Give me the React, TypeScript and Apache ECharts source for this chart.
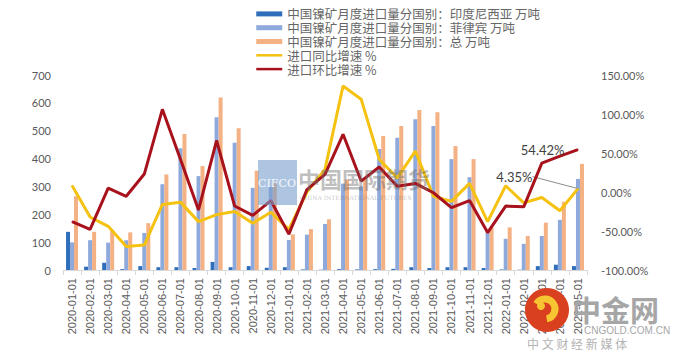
import React, { useEffect, useRef } from "react";
import * as echarts from "echarts";

const categories = [
  "2020-01-01", "2020-02-01", "2020-03-01", "2020-04-01", "2020-05-01", "2020-06-01",
  "2020-07-01", "2020-08-01", "2020-09-01", "2020-10-01", "2020-11-01", "2020-12-01",
  "2021-01-01", "2021-02-01", "2021-03-01", "2021-04-01", "2021-05-01", "2021-06-01",
  "2021-07-01", "2021-08-01", "2021-09-01", "2021-10-01", "2021-11-01", "2021-12-01",
  "2022-01-01", "2022-02-01", "2022-03-01", "2022-04-01", "2022-05-01",
];

const indonesia = [137, 12, 26, 3, 14, 10, 10, 7, 29, 10, 14, 8, 10, 2, 1, 3, 2, 3, 4, 10, 7, 10, 10, 7, 2, 1, 14, 19, 14];
const philippines = [99, 107, 98, 107, 133, 308, 437, 337, 548, 457, 295, 300, 108, 127, 165, 310, 300, 434, 475, 541, 517, 398, 333, 137, 112, 94, 122, 180, 327];
const total = [265, 137, 144, 135, 168, 343, 488, 373, 619, 509, 356, 315, 128, 147, 182, 325, 330, 481, 517, 574, 566, 445, 398, 152, 153, 122, 170, 245, 381];
const yoy = [8.2, -32, -44, -70, -68, -16, -13, -38, -29, -25, -40, -26, -48, 0, 29, 136, 119, 42, 18, 52.5, -5.5, -12, 11, -38, 8, -14, -7, -24, 4.35];
const mom = [-38, -48, 5, -5.5, 23, 106, 42, -23, 66, -18, -30, -11, -54, 3, 22.5, 74, 14, 32, 7.4, 11, -1, -20, -11, -52, -18, -19, 37, 46, 54.42];

const leftTicks = { min: 0, max: 700, interval: 100 };
const rightTicks = { min: -100, max: 150, interval: 50 };

const names = [
  "中国镍矿月度进口量分国别：印度尼西亚 万吨",
  "中国镍矿月度进口量分国别：菲律宾 万吨",
  "中国镍矿月度进口量分国别：总 万吨",
  "进口同比增速 %",
  "进口环比增速 %",
];

const pctFmt = (v: number) => v.toFixed(2) + "%";

function lastLabeled(arr: number[], label: any) {
  return arr.map((v, i) =>
    i === arr.length - 1 ? { value: v, label: { show: true, ...label } } : v
  );
}

export default function App() {
  const ref = useRef<HTMLDivElement>(null);
  useEffect(() => {
    if (!ref.current) return;
    const chart = echarts.init(ref.current, undefined, { renderer: "svg" });
    const gray = "#595959";
    const font = 'Lato, "Noto Sans CJK SC", sans-serif';
    const YELLOW = "#F5C211";
    const RED = "#A8121C";
    const option: any = {
      animation: false,
      textStyle: { fontFamily: font },
      legend: {
        orient: "vertical",
        left: 250,
        top: 2,
        itemWidth: 26,
        itemHeight: 5,
        itemGap: 0,
        selectedMode: false,
        textStyle: { color: "#666666", fontSize: 12.5, lineHeight: 13.8, fontFamily: '"Noto Sans CJK SC", sans-serif' },
        data: [
          { name: names[0], icon: "rect" },
          { name: names[1], icon: "rect" },
          { name: names[2], icon: "rect" },
          { name: names[3], itemStyle: { opacity: 0 }, lineStyle: { width: 2.5, color: YELLOW } },
          { name: names[4], itemStyle: { opacity: 0 }, lineStyle: { width: 2.5, color: RED } },
        ],
      },
      grid: { left: 63, right: 93, top: 75, bottom: 91 },
      xAxis: {
        type: "category",
        data: categories,
        axisLine: { lineStyle: { color: "#D9D9D9" } },
        axisTick: { show: true, length: 5, lineStyle: { color: "#D9D9D9" } },
        axisLabel: { rotate: 90, interval: 0, fontSize: 11, color: gray, margin: 8, fontFamily: '"Liberation Sans", Arial, sans-serif' },
      },
      yAxis: [
        {
          type: "value",
          ...leftTicks,
          splitLine: { show: false },
          axisLine: { show: false },
          axisTick: { show: false },
          axisLabel: { fontSize: 11, color: gray, margin: 12 },
        },
        {
          type: "value",
          ...rightTicks,
          splitLine: { show: false },
          axisLine: { show: false },
          axisTick: { show: false },
          axisLabel: { fontSize: 11, color: gray, margin: 14, formatter: pctFmt },
        },
      ],
      series: [
        { name: names[0], type: "bar", data: indonesia, barWidth: 4, barGap: "0%", itemStyle: { color: "#2F6EBA" } },
        { name: names[1], type: "bar", data: philippines, barWidth: 4, barGap: "0%", itemStyle: { color: "#8EA9DB" } },
        { name: names[2], type: "bar", data: total, barWidth: 4, barGap: "0%", itemStyle: { color: "#F4B183" } },
        {
          name: names[3],
          type: "line",
          yAxisIndex: 1,
          symbol: "circle",
          symbolSize: 1,
          showSymbol: true,
          z: 3,
          lineStyle: { width: 3, color: YELLOW },
          itemStyle: { color: YELLOW },
          data: lastLabeled(yoy, {
            position: "left",
            distance: 5,
            fontSize: 13,
            color: "#404040",
            formatter: (p: any) => pctFmt(Number(p.value)),
          }),
          labelLayout: { dx: -40, dy: -12 },
          labelLine: { show: true, lineStyle: { color: "#8C8C8C", width: 1 } },
        },
        {
          name: names[4],
          type: "line",
          yAxisIndex: 1,
          symbol: "circle",
          symbolSize: 1,
          showSymbol: true,
          z: 4,
          lineStyle: { width: 3, color: RED },
          itemStyle: { color: RED },
          data: lastLabeled(mom, {
            position: "left",
            distance: 13,
            fontSize: 13,
            color: "#404040",
            formatter: (p: any) => pctFmt(Number(p.value)),
          }),
        },
      ],
      graphic: [
        { type: "rect", z: 10, shape: { x: 258, y: 160, width: 39, height: 45 }, style: { fill: "rgba(120,158,206,0.6)" } },
        { type: "text", z: 11, x: 277, y: 183, style: { text: "CIFCO", fill: "rgba(255,255,255,0.9)", font: "11px 'DejaVu Serif', serif", align: "center", verticalAlign: "middle" } },
        { type: "text", z: 11, x: 298, y: 178, style: { text: "中国国际期货", fill: "rgba(110,110,110,0.45)", font: "bold 22px 'Noto Sans CJK SC', sans-serif", verticalAlign: "middle" } },
        { type: "text", z: 11, x: 300, y: 197, style: { text: "CHINA INTERNATIONAL FUTURES", fill: "rgba(120,120,120,0.45)", font: "6px 'DejaVu Serif', serif", verticalAlign: "middle" } },
        { type: "circle", z: 12, shape: { cx: 547, cy: 310, r: 22 }, style: { fill: "#D9401F" } },
        { type: "arc", z: 13, shape: { cx: 545, cy: 309, r: 10, startAngle: -2.6, endAngle: 1.4 }, style: { stroke: "#F7C531", lineWidth: 7, fill: "none" } },
        { type: "circle", z: 13, shape: { cx: 541, cy: 306, r: 4 }, style: { fill: "#F7C531" } },
        { type: "text", z: 12, x: 572, y: 309, style: { text: "中金网", fill: "#A6A6A6", font: "bold 29px 'Noto Sans CJK SC', sans-serif", verticalAlign: "middle" } },
        { type: "text", z: 12, x: 584, y: 330, style: { text: "CNGOLD.COM.CN", fill: "#A6A6A6", font: "10px 'Liberation Sans', sans-serif", verticalAlign: "middle" } },
        { type: "text", z: 12, x: 527, y: 343, style: { text: "中 文 财 经 新 媒 体", fill: "#B3B3B3", font: "12px 'Noto Sans CJK SC', sans-serif", verticalAlign: "middle" } },
      ],
    };
    chart.setOption(option);
    return () => chart.dispose();
  }, []);
  return (
    <div
      ref={ref}
      style={{ position: "fixed", left: 0, top: 0, width: 680, height: 361, background: "#fff" }}
    />
  );
}
